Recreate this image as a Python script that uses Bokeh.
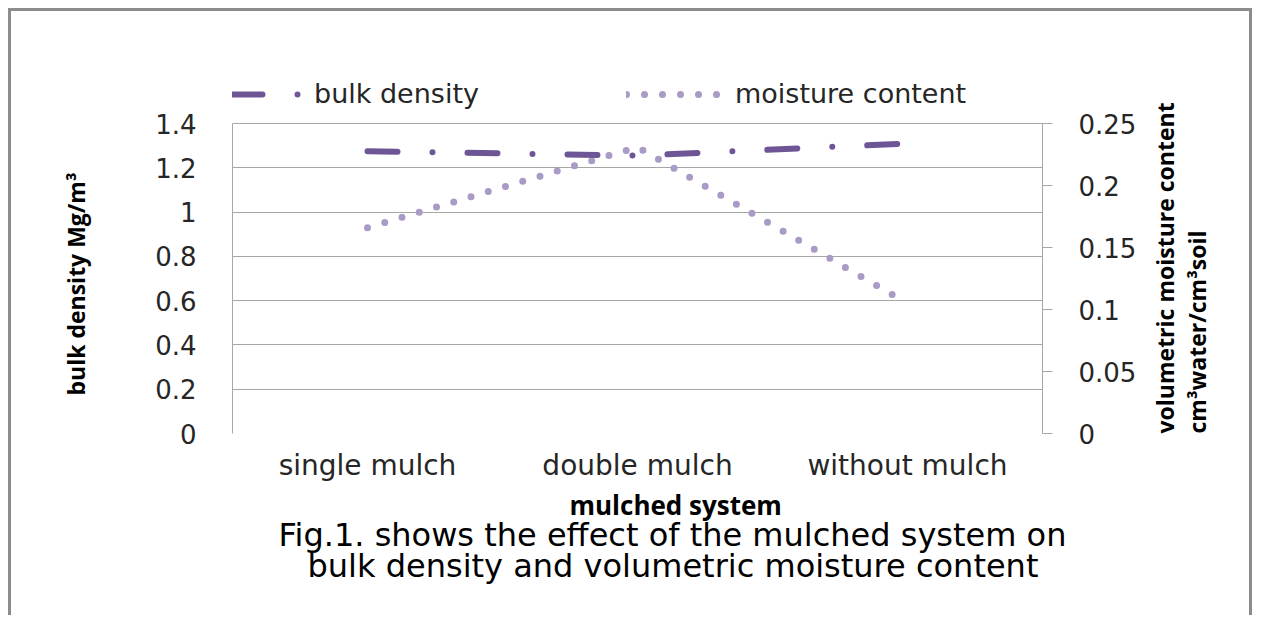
import math
from bokeh.plotting import figure
from bokeh.models import (FactorRange, Range1d, LinearAxis, FixedTicker, NumeralTickFormatter,
                          Legend, LegendItem, Title)
from bokeh.embed import file_html
from bokeh.resources import INLINE

# ---- data ----
categories = ["single mulch", "double mulch", "without mulch"]
bulk_density = [1.275, 1.255, 1.31]
moisture_content = [0.166, 0.231, 0.105]
left_ticks = [0, 0.2, 0.4, 0.6, 0.8, 1.0, 1.2, 1.4]
right_ticks = [0, 0.05, 0.1, 0.15, 0.2, 0.25]

x_title = "mulched system"
y_title = "bulk density Mg/m\u00b3"
y2_title = "volumetric moisture content\ncm\u00b3water/cm\u00b3soil"
caption_1 = "Fig.1. shows the effect of the mulched system on"
caption_2 = "bulk density and volumetric moisture content"

# ---- styles / layout ----
BULK = "#6e5595"
MOIST = "#a99ac6"
GRID = "#a6a6a6"
TXT = "#262626"
TICKFONT = "DejaVu Sans"

W, H = 1252, 615
FRAME_TOP, AREA_TOP, AREA_BOTTOM = 60, 123, 433   # frame includes a strip for the legend
extend = (AREA_BOTTOM - FRAME_TOP) / (AREA_BOTTOM - AREA_TOP)

p = figure(x_range=FactorRange(*categories, range_padding=0),
           y_range=Range1d(left_ticks[0], left_ticks[-1] * extend),
           width=W, height=H, output_backend="svg", toolbar_location=None,
           min_border_left=231, min_border_right=210, min_border_top=FRAME_TOP,
           min_border_bottom=H - AREA_BOTTOM, title_location=None)
p.extra_y_ranges = {"moist": Range1d(right_ticks[0], right_ticks[-1] * extend)}
p.border_fill_color = None
p.styles = {"box-shadow": "inset 8px 8px 0 0 #ffffff, inset 11px 11px 0 0 #8c8c8c, "
                          "inset -3px 0 0 0 #8c8c8c"}

p.outline_line_color = None
p.xgrid.visible = False
p.ygrid.grid_line_color = GRID
p.ygrid.grid_line_width = 1

# left axis
ya = p.yaxis[0]
ya.ticker = FixedTicker(ticks=left_ticks)
ya.bounds = (left_ticks[0], left_ticks[-1])
ya.formatter = NumeralTickFormatter(format="0.[00]")
ya.axis_line_color = GRID
ya.major_tick_line_color = None
ya.minor_tick_line_color = None
ya.major_label_standoff = 30
ya.major_label_text_font = TICKFONT
ya.major_label_text_font_size = "26px"
ya.major_label_text_color = TXT

# left title (outside the left axis)
p.add_layout(Title(text=y_title, align="left", offset=38, vertical_align="top",
                   standoff=118, text_font="Open Sans", text_font_style="bold",
                   text_font_size="23px", text_color="#000000"), "left")

# right axis
ra = LinearAxis(y_range_name="moist", ticker=FixedTicker(ticks=right_ticks),
                formatter=NumeralTickFormatter(format="0.[00]"),
                bounds=(right_ticks[0], right_ticks[-1]))
ra.axis_line_color = GRID
ra.major_tick_line_color = GRID
ra.major_tick_out = 10
ra.major_tick_in = 0
ra.minor_tick_line_color = None
ra.major_label_standoff = 26
ra.major_label_text_font = TICKFONT
ra.major_label_text_font_size = "26px"
ra.major_label_text_color = TXT
ra.axis_label = y2_title
ra.axis_label_text_font = "Open Sans"
ra.axis_label_text_font_style = "bold"
ra.axis_label_text_font_size = "23px"
ra.axis_label_text_line_height = 1.0
ra.axis_label_text_color = "#000000"
ra.axis_label_standoff = 42
try:
    ra.axis_label_orientation = math.pi / 2
except Exception:
    pass
for _val in ("start", "left"):
    try:
        ra.axis_label_align = _val
        break
    except Exception:
        pass
p.add_layout(ra, "right")

# x axis
xa = p.xaxis[0]
xa.axis_line_color = None
xa.major_tick_line_color = None
xa.minor_tick_line_color = None
xa.major_label_standoff = 9
xa.major_label_text_font = TICKFONT
xa.major_label_text_font_size = "28px"
xa.major_label_text_color = TXT

# series
r_moist = p.line(x=categories, y=moisture_content, y_range_name="moist",
                 line_color=MOIST, line_width=7, line_dash="0 18", line_cap="round")
r_bulk = p.line(x=categories, y=bulk_density,
                line_color=BULK, line_width=6, line_dash="30 35 0 35", line_cap="round")

# legends (in the strip above the plot area)
common = dict(orientation="horizontal", padding=0, margin=0, border_line_color=None,
              background_fill_alpha=0, label_text_font=TICKFONT,
              label_text_font_size="27px", label_text_color=TXT, glyph_height=20)
leg1 = Legend(items=[LegendItem(label="bulk density", renderers=[r_bulk])],
              location=(0, 324), glyph_width=70, label_standoff=12, **common)
leg2 = Legend(items=[LegendItem(label="moisture content", renderers=[r_moist])],
              location=(394, 324), glyph_width=95, label_standoff=14, **common)
p.add_layout(leg1)
p.add_layout(leg2)

# x title and caption below
p.add_layout(Title(text=x_title, align="left", offset=337, text_font="Open Sans",
                   text_font_style="bold", text_font_size="26px",
                   text_color="#000000", standoff=0), "below")
cap = dict(align="left", text_font="DejaVu Sans", text_font_style="normal",
           text_font_size="32px", text_color="#000000")
p.add_layout(Title(text=caption_1, offset=46, standoff=-18, **cap), "below")
p.add_layout(Title(text=caption_2, offset=75, standoff=0, **cap), "below")

open("out.html", "w").write(file_html(p, INLINE))
